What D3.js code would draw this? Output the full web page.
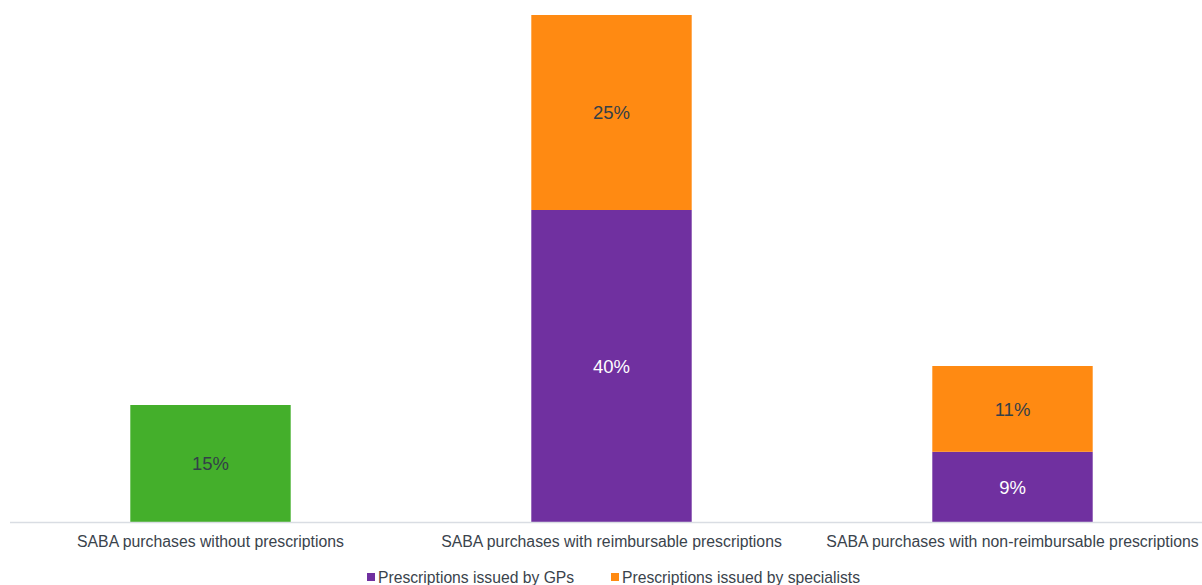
<!DOCTYPE html>
<html>
<head>
<meta charset="utf-8">
<script src="https://cdn.jsdelivr.net/npm/d3@7"></script>
<style>
  body { margin: 0; background: #fff; }
  text { font-family: "Liberation Sans", Arial, sans-serif; }
</style>
</head>
<body>
<svg id="chart" width="1202" height="585"></svg>
<script>
// data
const categories = [
  "SABA purchases without prescriptions",
  "SABA purchases with reimbursable prescriptions",
  "SABA purchases with non-reimbursable prescriptions"
];
const noPrescription = [15, 0, 0];
const byGPs = [0, 40, 9];
const bySpecialists = [0, 25, 11];
const seriesKeys = ["none", "gp", "spec"];
const legendLabels = ["Prescriptions issued by GPs", "Prescriptions issued by specialists"];

const svg = d3.select("#chart");

const rows = categories.map((c, i) => ({
  cat: c, none: noPrescription[i], gp: byGPs[i], spec: bySpecialists[i]
}));

const colors = { none: "#44AF2B", gp: "#7030A0", spec: "#FF8A12" };
const labelColors = { none: "#333f48", gp: "#ffffff", spec: "#333f48" };

const xScale = d3.scaleBand()
  .domain(categories)
  .range([10, 1213])
  .paddingInner(0.6)
  .paddingOuter(0.3);

const yScale = d3.scaleLinear()
  .domain([0, 65])
  .range([522, 15]);

const stacked = d3.stack().keys(seriesKeys)(rows);

// bars
const layers = svg.selectAll("g.layer")
  .data(stacked)
  .enter()
  .append("g")
  .attr("class", "layer")
  .attr("fill", d => colors[d.key]);

layers.selectAll("rect")
  .data(d => d.map(p => ({ key: d.key, p: p })).filter(o => o.p[1] - o.p[0] > 0))
  .enter()
  .append("rect")
  .attr("x", d => xScale(d.p.data.cat))
  .attr("width", xScale.bandwidth())
  .attr("y", d => yScale(d.p[1]))
  .attr("height", d => yScale(d.p[0]) - yScale(d.p[1]));

// value labels
layers.selectAll("text")
  .data(d => d.map(p => ({ key: d.key, p: p })).filter(o => o.p[1] - o.p[0] > 0))
  .enter()
  .append("text")
  .attr("x", d => xScale(d.p.data.cat) + xScale.bandwidth() / 2)
  .attr("y", d => (yScale(d.p[0]) + yScale(d.p[1])) / 2)
  .attr("dy", "0.36em")
  .attr("text-anchor", "middle")
  .attr("font-size", 18.5)
  .attr("fill", d => labelColors[d.key])
  .text(d => (d.p[1] - d.p[0]) + "%");

// x axis
const xAxis = svg.append("g")
  .attr("transform", "translate(0,522)")
  .call(d3.axisBottom(xScale).tickSize(0).tickPadding(14));
xAxis.select(".domain").attr("stroke", "#d9dde3").attr("stroke-width", 1.5)
  .attr("d", "M10,0.5H1202");
xAxis.selectAll("text")
  .attr("font-size", 15.8)
  .attr("fill", "#3a434c")
  .style("font-family", "Liberation Sans, Arial, sans-serif");

// legend
const legendX = [367, 611];
const legend = svg.selectAll("g.legend")
  .data(legendLabels)
  .enter()
  .append("g")
  .attr("class", "legend")
  .attr("transform", (d, i) => "translate(" + legendX[i] + ",577)");

legend.append("rect")
  .attr("x", 0)
  .attr("y", -4)
  .attr("width", 8)
  .attr("height", 8)
  .attr("fill", (d, i) => i === 0 ? colors.gp : colors.spec);

legend.append("text")
  .attr("x", 11)
  .attr("dy", "0.36em")
  .attr("font-size", 15.7)
  .attr("fill", "#3a434c")
  .text(d => d);
</script>
</body>
</html>
